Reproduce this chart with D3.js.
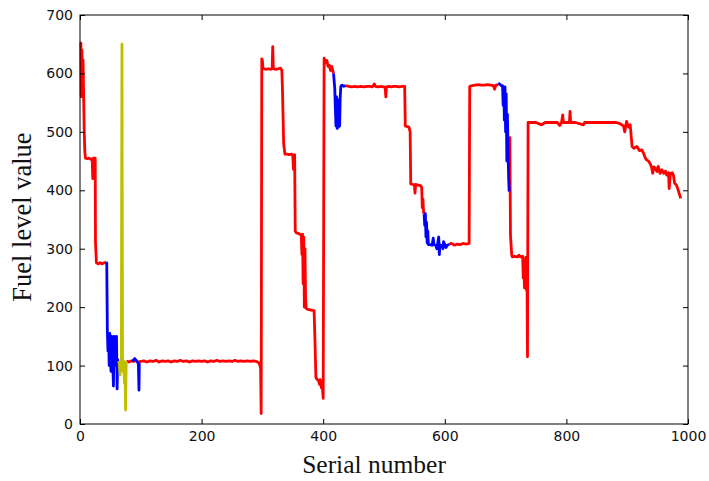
<!DOCTYPE html>
<html><head><meta charset="utf-8">
<script src="https://cdn.jsdelivr.net/npm/d3@7"></script>
<style>body{margin:0;background:#fff}svg{display:block}</style>
</head><body>
<svg id="chart" width="709" height="481"></svg>
<script>
// ---- data (serial number, fuel level) ----
const redA = [[1,650],[1.5,652],[2,560],[3,640],[4,600],[5,623],[6,560],[7,500],[8,465],[9,455],[12,454],[15,455],[18,453],[20,454],[21,420],[22,455],[24,455],[25,455],[25.5,310],[27,276],[30,274],[33,276],[36,274],[40,276],[43,277]];
const blueA = [[43,277],[44,276],[45,160],[46,125],[47,150],[48,100],[49,155],[50,110],[51,90],[52,150],[53,120],[54,100],[55,65],[56,150],[57,110],[58,145],[59,100],[60,150],[61,60],[62,110],[63,100],[64,108]];
const yellowA = [[64,108],[66,84],[67,105],[68,110],[69,650],[70,100],[71,90],[72,108],[73,70],[74,100],[75,24],[76,108]];
const redB = [[76,108],[80,106],[84,108],[88,107],[92,109],[96,106],[100,107],[105,108],[110,106],[115,108],[120,107],[125,109],[130,106],[135,108],[140,107],[145,108],[150,106],[155,108],[160,107],[165,109],[170,107],[175,108],[180,106],[185,108],[190,107],[195,108],[200,107],[205,108],[210,106],[215,108],[220,107],[225,109],[230,107],[235,108],[240,107],[245,108],[250,107],[255,109],[260,107],[265,108],[270,107],[275,108],[280,107],[285,108],[290,107],[294,105],[296,100],[297,95],[298,18],[299,625],[300,622],[301,609],[302,608],[306,607],[310,608],[314,607],[316,608],[317,646],[318,608],[322,607],[326,608],[330,609],[332,605],[333,572],[335,480],[337,462],[340,462],[344,461],[348,462],[350,460],[351,436],[352,460],[353,461],[354,330],[356,327],[360,326],[364,323],[365,290],[366,325],[367,240],[368,320],[369,200],[370,300],[371,215],[372,198],[375,196],[380,195],[385,194],[386,160],[388,80],[390,76],[392,75],[394,68],[395,76],[397,62],[398,72],[400,44],[401.5,626],[404,618],[406,622],[408,612],[410,614],[412,605],[414,612],[417,600]];
const blueB = [[86,107],[90,112],[94,106],[96,104],[97,58],[97.5,104]];
const blueC = [[417,600],[419,575],[420,540],[421,510],[422,560],[423,506],[424,550],[425,508],[426,555],[427,510],[428,560],[429,578],[431,580],[434,578],[437,579]];
const redC = [[437,579],[442,578],[447,577],[452,578],[457,577],[462,578],[467,577],[472,578],[477,578],[481,577],[484,582],[486,578],[490,577],[495,578],[500,577],[502,575],[503,560],[504,577],[508,578],[512,577],[516,578],[520,578],[525,577],[530,578],[534,578],[535,510],[538,509],[541,508],[543,500],[544,411],[547,410],[550,409],[551,395],[552,410],[556,409],[560,408],[562,405],[563,370],[564,385],[565,365],[566,358]];
const blueD = [[566,358],[567,340],[568,360],[569,320],[570,345],[571,310],[572,330],[573,307],[576,307],[579,306],[581,318],[582,307],[585,306],[587,300],[588,307],[590,320],[591,290],[592,307],[595,305],[597,300],[598,312],[600,307],[602,302],[604,306],[607,307]];
const redD = [[607,307],[610,309],[613,308],[616,306],[620,308],[625,307],[630,309],[635,308],[640,309],[641,578],[645,579],[650,580],[655,581],[660,580],[665,580],[670,581],[675,580],[680,579],[682,573],[684,580],[688,581]];
const blueE = [[688,583],[690,582],[692,580],[694,578],[695,579],[696,545],[697,575],[698,520],[699,577],[700,500],[701,565],[702,450],[703,530],[704,470],[705,420],[706,398]];
const redE = [[706,398],[707,490],[708,323],[710,290],[711,286],[715,287],[720,286],[722,289],[725,286],[728,287],[729,250],[730,280],[731,233],[733,285],[734,230],[735,280],[736,115],[737,516],[745,516],[750,516],[759,512],[765,516],[775,516],[785,516],[789,511],[792,516],[794,529],[795,516],[800,516],[805,516],[806,535],[807,516],[815,516],[828,512],[830,516],[840,516],[850,516],[860,516],[870,516],[882,516],[888,514],[894,510],[896,500],[899,518],[902,508],[905,512],[908,475],[911,472],[916,475],[920,468],[924,469],[927,463],[930,455],[932,452],[935,450],[938,445],[940,440],[942,429],[944,440],[946,438],[949,432],[951,441],[954,429],[957,435],[960,429],[963,433],[965,426],[968,430],[969,403],[971,429],[974,430],[976,426],[978,412],[981,409],[984,400],[988,386]];

const xTicks = [0,200,400,600,800,1000];
const yTicks = [0,100,200,300,400,500,600,700];
const xLabel = "Serial number";
const yLabel = "Fuel level value";

// ---- layout ----
const W = 709, H = 481;
const m = {left: 80, right: 21, top: 15, bottom: 57};
const iw = W - m.left - m.right, ih = H - m.top - m.bottom;
const svg = d3.select("#chart");
const g = svg.append("g").attr("transform", `translate(${m.left},${m.top})`);
const x = d3.scaleLinear().domain([0,1000]).range([0, iw]);
const y = d3.scaleLinear().domain([0,700]).range([ih, 0]);

const line = d3.line().x(d => x(d[0])).y(d => y(d[1]));
const series = [
  {d: redA, c: "#ff0000"}, {d: redB, c: "#ff0000"}, {d: redC, c: "#ff0000"}, {d: redD, c: "#ff0000"}, {d: redE, c: "#ff0000"},
  {d: blueA, c: "#0000ff"}, {d: blueB, c: "#0000ff"}, {d: blueC, c: "#0000ff"}, {d: blueD, c: "#0000ff"}, {d: blueE, c: "#0000ff"},
  {d: yellowA, c: "#bfbf00"}
];
g.append("g").selectAll("path").data(series).join("path")
  .attr("d", s => line(s.d)).attr("fill", "none").attr("stroke", s => s.c)
  .attr("stroke-width", 2.8).attr("stroke-linejoin", "round").attr("stroke-linecap", "butt");

// axes: inward ticks on all sides
const tickFont = "DejaVu Sans, sans-serif";
const ax = (sel) => { sel.select(".domain").remove(); sel.selectAll("line").attr("stroke", "#000"); sel.selectAll("text").attr("font-family", tickFont).attr("font-size", 14).attr("fill", "#111"); };
g.append("g").attr("transform", `translate(0,${ih})`)
  .call(d3.axisBottom(x).tickValues(xTicks).tickSize(-5).tickPadding(7.5).tickFormat(d3.format("d"))).call(ax);
g.append("g").call(d3.axisTop(x).tickValues(xTicks).tickSize(-5).tickFormat("")).call(ax);
g.append("g").call(d3.axisLeft(y).tickValues(yTicks).tickSize(-5).tickPadding(7).tickFormat(d3.format("d"))).call(ax);
g.append("g").attr("transform", `translate(${iw},0)`).call(d3.axisRight(y).tickValues(yTicks).tickSize(-5).tickFormat("")).call(ax);

g.append("rect").attr("width", iw).attr("height", ih).attr("fill", "none").attr("stroke", "#000").attr("stroke-width", 1);

svg.append("text").attr("x", 374).attr("y", 473).attr("text-anchor", "middle")
  .attr("font-family", "Liberation Serif, Times New Roman, serif").attr("font-size", 25.5).attr("fill", "#111").text(xLabel);
svg.append("text").attr("transform", `translate(31,217) rotate(-90)`).attr("text-anchor", "middle")
  .attr("font-family", "Liberation Serif, Times New Roman, serif").attr("font-size", 26.5).attr("fill", "#111").text(yLabel);
</script>
</body></html>
